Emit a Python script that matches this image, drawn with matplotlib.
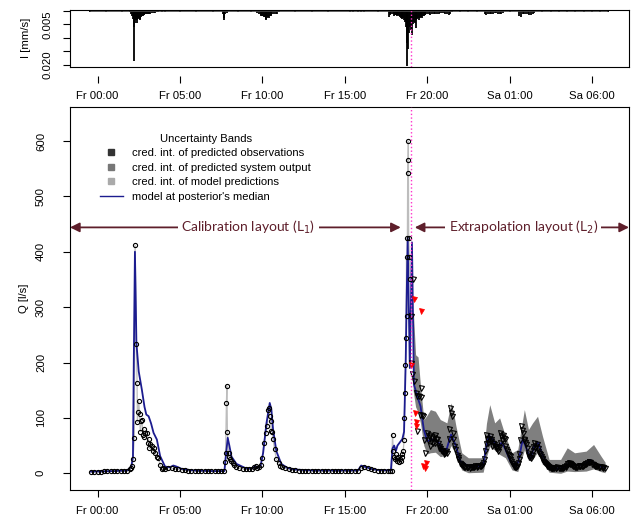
import numpy as np
import matplotlib
matplotlib.use("Agg")
import matplotlib.pyplot as plt
from matplotlib.lines import Line2D

plt.rcParams['font.family'] = ['Liberation Sans', 'DejaVu Sans']

# time axis in hours after Friday 00:00
tick_hours = [0, 5, 10, 15, 20, 25, 30]
tick_labels = ["Fr 00:00", "Fr 05:00", "Fr 10:00", "Fr 15:00", "Fr 20:00", "Sa 01:00", "Sa 06:00"]
t_switch = 19.0   # switch from calibration to extrapolation layout

# rainfall intensity [mm/s] as (hour, intensity)
rain = [(-0.45, 0.0003), (0.5, 0.0003), (1.5, 0.0004), (2.0, 0.0006), (2.05, 0.0012), (2.1, 0.0020),
        (2.15, 0.0030), (2.2, 0.0060), (2.23, 0.0184), (2.27, 0.0045), (2.3, 0.0035), (2.32, 0.0030),
        (2.35, 0.0028), (2.37, 0.0032), (2.4, 0.0046), (2.43, 0.0030), (2.45, 0.0026),
        (2.47, 0.0024), (2.5, 0.0022), (2.52, 0.0026), (2.55, 0.0030), (2.57, 0.0028),
        (2.6, 0.0034), (2.65, 0.0024), (2.7, 0.0020), (2.75, 0.0018), (2.8, 0.0014), (2.85, 0.0016),
        (2.9, 0.0012), (2.95, 0.0013), (3.0, 0.0011), (3.05, 0.0012), (3.1, 0.0009), (3.15, 0.0010),
        (3.2, 0.0010), (3.3, 0.0007), (3.4, 0.0008), (3.5, 0.0008), (3.6, 0.0006), (3.7, 0.0006),
        (3.9, 0.0005), (4.1, 0.0004), (5.0, 0.0003), (6.0, 0.0003), (7.0, 0.0003), (7.6, 0.0010),
        (7.65, 0.0034), (7.7, 0.0025), (7.75, 0.0012), (7.85, 0.0008), (8.5, 0.0003), (9.3, 0.0005),
        (9.7, 0.0008), (9.8, 0.0012), (9.9, 0.0018), (9.95, 0.0015), (10.0, 0.0020), (10.05, 0.0018),
        (10.1, 0.0024), (10.15, 0.0022), (10.2, 0.0030), (10.25, 0.0034), (10.3, 0.0028),
        (10.35, 0.0024), (10.4, 0.0025), (10.45, 0.0020), (10.5, 0.0018), (10.55, 0.0015),
        (10.6, 0.0012), (10.7, 0.0010), (10.8, 0.0012), (10.9, 0.0010), (11.0, 0.0006),
        (12.0, 0.0003), (13.0, 0.0003), (14.0, 0.0003), (15.3, 0.0005), (15.5, 0.0006),
        (15.8, 0.0004), (16.0, 0.0006), (16.2, 0.0005), (17.0, 0.0003), (17.7, 0.0021),
        (17.75, 0.0016), (17.8, 0.0012), (17.9, 0.0012), (18.0, 0.0018), (18.05, 0.0014),
        (18.1, 0.0015), (18.15, 0.0017), (18.2, 0.0020), (18.25, 0.0016), (18.3, 0.0018),
        (18.35, 0.0022), (18.4, 0.0025), (18.45, 0.0022), (18.5, 0.0030), (18.55, 0.0028),
        (18.6, 0.0035), (18.65, 0.0040), (18.7, 0.0060), (18.75, 0.0120), (18.8, 0.0205),
        (18.85, 0.0140), (18.9, 0.0080), (18.95, 0.0060), (19.0, 0.0060), (19.05, 0.0070),
        (19.1, 0.0090), (19.15, 0.0050), (19.2, 0.0040), (19.25, 0.0045), (19.3, 0.0065),
        (19.35, 0.0035), (19.4, 0.0030), (19.45, 0.0028), (19.5, 0.0035), (19.55, 0.0025),
        (19.6, 0.0020), (19.65, 0.0022), (19.7, 0.0025), (19.75, 0.0020), (19.8, 0.0018),
        (19.85, 0.0016), (19.9, 0.0015), (20.0, 0.0012), (20.1, 0.0011), (20.2, 0.0014),
        (20.3, 0.0012), (20.4, 0.0010), (20.5, 0.0011), (20.6, 0.0012), (20.7, 0.0010),
        (20.8, 0.0009), (20.9, 0.0008), (21.0, 0.0008), (21.1, 0.0010), (21.2, 0.0012),
        (21.3, 0.0015), (21.4, 0.0010), (21.5, 0.0006), (22.0, 0.0004), (22.5, 0.0005),
        (23.0, 0.0004), (23.5, 0.0010), (23.6, 0.0015), (23.7, 0.0012), (23.8, 0.0012),
        (23.9, 0.0010), (24.0, 0.0010), (24.1, 0.0009), (24.2, 0.0008), (24.3, 0.0010),
        (24.4, 0.0012), (24.5, 0.0010), (24.6, 0.0008), (25.0, 0.0006), (25.6, 0.0018),
        (25.7, 0.0021), (25.8, 0.0012), (25.9, 0.0010), (26.0, 0.0011), (26.1, 0.0012),
        (26.2, 0.0014), (26.3, 0.0016), (26.4, 0.0010), (26.5, 0.0008), (27.0, 0.0006),
        (27.5, 0.0005), (28.0, 0.0005), (28.5, 0.0006), (29.0, 0.0005), (29.5, 0.0006),
        (30.0, 0.0005), (30.5, 0.0005), (31.0, 0.0004)]

# model at posterior's median [l/s] as (hour, discharge)
model = [(-0.4, 3), (1.0, 4), (1.8, 5), (2.05, 12), (2.15, 30), (2.2, 200), (2.27, 400), (2.36, 235),
         (2.5, 184), (2.69, 151), (2.85, 120), (2.96, 106), (3.1, 103), (3.25, 90), (3.4, 73),
         (3.6, 61), (3.8, 31), (4.1, 12), (4.4, 11), (4.6, 14), (4.8, 12), (5.1, 8), (5.8, 5),
         (7.0, 4), (7.7, 4), (7.75, 20), (7.9, 64), (8.0, 50), (8.13, 30), (8.43, 17), (9.0, 9),
         (9.4, 9), (9.57, 13), (9.75, 10), (9.9, 14), (10.05, 37), (10.25, 90), (10.45, 127),
         (10.55, 115), (10.65, 80), (10.85, 40), (11.15, 17), (11.5, 10), (11.9, 7), (13.0, 5),
         (15.8, 5), (16.0, 14), (16.3, 11), (16.6, 8), (17.0, 6), (17.8, 5), (17.9, 45), (18.0, 50),
         (18.1, 40), (18.2, 50), (18.4, 58), (18.5, 62), (18.6, 75), (18.7, 200), (18.75, 300),
         (18.82, 425), (18.95, 190), (19.08, 417), (19.2, 160), (19.3, 150), (19.4, 139),
         (19.6, 121), (19.8, 79), (20.0, 58), (20.2, 60), (20.4, 61), (20.7, 55), (21.0, 37),
         (21.2, 45), (21.45, 70), (21.75, 49), (22.0, 22), (22.5, 13), (23.1, 13), (23.4, 15),
         (23.6, 49), (23.75, 68), (24.0, 61), (24.2, 49), (24.55, 55), (24.75, 43), (25.05, 22),
         (25.35, 13), (25.55, 22), (25.8, 62), (26.05, 43), (26.25, 25), (26.5, 49), (26.75, 55),
         (26.95, 37), (27.35, 13), (27.75, 8), (28.35, 10), (28.66, 20), (28.95, 15), (29.55, 16),
         (29.9, 24), (30.3, 15), (30.8, 10)]

# credible interval of predicted system output, (hour, lower, upper)
band = [(19.15, 150, 300), (19.3, 120, 214), (19.45, 110, 210), (19.6, 90, 157), (19.8, 50, 97),
        (20.0, 35, 105), (20.2, 37, 115), (20.5, 38, 112), (20.8, 30, 97), (21.2, 33, 91),
        (21.45, 50, 127), (21.6, 42, 110), (21.75, 30, 85), (22.1, 6, 37), (22.5, 1, 28),
        (23.4, 2, 28), (23.6, 30, 90), (23.8, 48, 124), (24.1, 42, 91), (24.4, 34, 100),
        (24.75, 28, 67), (25.15, 6, 37), (25.5, 3, 43), (25.9, 42, 115), (26.15, 28, 79),
        (26.4, 25, 91), (26.7, 38, 103), (27.0, 22, 67), (27.4, 2, 25), (28.1, 0, 25),
        (28.5, 4, 46), (28.95, 3, 37), (29.65, 4, 40), (30.1, 8, 52), (30.55, 3, 31), (30.8, 1, 20)]

# observed discharge, calibration layout [l/s] as (hour, discharge)
obs_cal = [(-0.4, 3), (-0.2, 3), (0.0, 3), (0.2, 3), (0.4, 4), (0.6, 4), (0.8, 4), (1.0, 4),
           (1.2, 4), (1.4, 4), (1.6, 5), (1.8, 5), (1.95, 7), (2.05, 10), (2.1, 14), (2.15, 25),
           (2.23, 63), (2.28, 412), (2.36, 233), (2.4, 163), (2.42, 92), (2.45, 110), (2.5, 130),
           (2.55, 107), (2.6, 75), (2.65, 95), (2.7, 97), (2.75, 70), (2.8, 80), (2.85, 65),
           (2.9, 72), (3.0, 73), (3.05, 55), (3.1, 61), (3.15, 45), (3.2, 52), (3.3, 49), (3.35, 40),
           (3.4, 45), (3.5, 37), (3.6, 30), (3.7, 28), (3.8, 15), (3.9, 7), (4.0, 9), (4.1, 8),
           (4.3, 10), (4.5, 9), (4.7, 8), (4.9, 7), (5.1, 6), (5.3, 6), (5.5, 5), (5.7, 5), (5.9, 5),
           (6.1, 4), (6.3, 4), (6.5, 4), (6.7, 4), (6.9, 4), (7.1, 4), (7.3, 4), (7.5, 4), (7.7, 5),
           (7.75, 20), (7.77, 37), (7.82, 126), (7.85, 158), (7.88, 74), (7.95, 37), (8.0, 30),
           (8.05, 25), (8.1, 22), (8.2, 18), (8.3, 15), (8.4, 12), (8.6, 9), (8.8, 8), (9.0, 7),
           (9.2, 7), (9.4, 8), (9.5, 12), (9.6, 13), (9.7, 10), (9.8, 12), (9.9, 15), (10.0, 28),
           (10.1, 55), (10.2, 73), (10.3, 85), (10.35, 115), (10.4, 118), (10.45, 103), (10.5, 94),
           (10.55, 76), (10.6, 75), (10.65, 61), (10.75, 43), (10.85, 25), (11.0, 19), (11.1, 14),
           (11.2, 12), (11.4, 9), (11.6, 7), (11.8, 6), (12.0, 6), (12.2, 5), (12.4, 5), (12.6, 5),
           (12.8, 5), (13.0, 5), (13.2, 4), (13.4, 4), (13.6, 4), (13.8, 4), (14.0, 4), (14.2, 4),
           (14.4, 4), (14.6, 4), (14.8, 4), (15.0, 4), (15.2, 4), (15.4, 4), (15.6, 4), (15.8, 4),
           (16.0, 9), (16.2, 11), (16.4, 10), (16.6, 8), (16.8, 6), (17.0, 5), (17.2, 5), (17.4, 4),
           (17.6, 4), (17.75, 4), (17.85, 5), (17.9, 70), (17.95, 40), (18.0, 30), (18.05, 25),
           (18.1, 35), (18.15, 28), (18.2, 22), (18.25, 30), (18.3, 20), (18.35, 25), (18.4, 22),
           (18.45, 30), (18.5, 35), (18.55, 40), (18.6, 60), (18.62, 100), (18.65, 145),
           (18.68, 196), (18.72, 244), (18.75, 390), (18.78, 284), (18.8, 424), (18.82, 542),
           (18.84, 566), (18.86, 600), (18.88, 424), (18.92, 390), (18.97, 350)]

# observed discharge, extrapolation layout [l/s], sampled every 6 minutes from 19:00
obs_ext_t0 = 19.0
obs_ext_dt = 0.1
obs_ext_q = [200, 180, 166, 145, 139, 140, 154, 106, 60, 37, 73, 67, 70, 64, 66, 70, 61, 49, 45, 40,
             38, 36, 37, 61, 118, 103, 61, 43, 33, 25, 19, 15, 13, 12, 11, 12, 10, 12, 11, 13, 12,
             14, 13, 15, 18, 40, 70, 55, 67, 61, 55, 49, 48, 40, 55, 67, 70, 61, 43, 35, 31, 22,
             16, 13, 12, 18, 35, 85, 73, 62, 52, 37, 30, 28, 40, 55, 49, 45, 37, 31, 25, 20, 16,
             14, 12, 10, 9, 9, 10, 11, 10, 9, 10, 11, 12, 16, 18, 17, 15, 13, 12, 12, 13, 13, 14,
             15, 16, 18, 20, 20, 17, 15, 14, 13, 12, 12, 11, 10, 10]
# additional readings in between
obs_extra = [(19.05, 284), (19.15, 350), (19.4, 76), (19.55, 106), (19.65, 138), (19.75, 104),
             (20.05, 60), (20.15, 50), (20.25, 58), (20.35, 55), (20.45, 55), (20.55, 62),
             (20.65, 55), (20.75, 46), (20.85, 42), (21.05, 35), (21.15, 40), (21.35, 80),
             (21.45, 109), (21.55, 73), (21.65, 50), (21.85, 30), (22.05, 17), (22.25, 12),
             (22.45, 11), (22.65, 12), (22.85, 12), (23.05, 13), (23.25, 14), (23.45, 25),
             (23.55, 52), (23.65, 61), (23.75, 62), (23.85, 58), (23.95, 50), (24.05, 52),
             (24.15, 45), (24.25, 44), (24.35, 48), (24.45, 73), (24.55, 60), (24.65, 64),
             (24.75, 50), (24.85, 40), (24.95, 33), (25.05, 26), (25.15, 18), (25.25, 14),
             (25.35, 12), (25.45, 14), (25.55, 25), (25.65, 60), (25.75, 78), (25.85, 60),
             (25.95, 56), (26.05, 45), (26.15, 33), (26.25, 29), (26.35, 33), (26.45, 48),
             (26.55, 45), (26.65, 52), (26.75, 40), (26.85, 34), (26.95, 28), (27.05, 22),
             (27.15, 18), (27.25, 15), (27.35, 13), (27.45, 11), (27.55, 10), (27.65, 9),
             (27.85, 10), (28.05, 10), (28.25, 10), (28.45, 14), (28.55, 17), (28.65, 19),
             (28.75, 16), (28.85, 14), (29.05, 12), (29.25, 13), (29.45, 14), (29.65, 17),
             (29.85, 21), (30.05, 16), (30.25, 14), (30.45, 12), (30.65, 11)]
# observations outside the predicted range
obs_out = [(19.2, 314), (19.6, 293), (19.05, 196), (19.27, 109), (19.3, 92), (19.33, 86),
           (19.75, 13), (19.85, 10), (19.92, 19)]

arrow_col = '#5e1f2b'
model_col = '#1c1c8f'
pink = '#ff33cc'
label_size = 8.2

W, H = 636, 519
fig = plt.figure(figsize=(W / 100, H / 100), dpi=100)


def px_axes(left, top, right, bottom):
    return fig.add_axes([left / W, 1 - bottom / H, (right - left) / W, (bottom - top) / H])


def style_axes(ax, ypad):
    for s in ax.spines.values():
        s.set_linewidth(0.8)
    ax.tick_params(length=4.8, width=0.8, labelsize=label_size)
    ax.tick_params(axis='x', pad=6.5)
    ax.tick_params(axis='y', pad=ypad)
    ax.set_xlim(-1.67, 32.25)


# rainfall panel, intensity axis pointing down
ax_r = px_axes(70, 10, 629, 66.7)
style_axes(ax_r, 8)
rain_t, rain_i = zip(*rain)
ax_r.vlines(rain_t, 0, rain_i, color='black', lw=1.3)
ax_r.hlines(0.00015, rain_t[0], rain_t[-1], color='0.3', lw=1.2)
ax_r.set_ylim(0.02064, -0.00032)
ax_r.set_yticks([0, 0.005, 0.010, 0.015, 0.020])
ax_r.set_yticklabels(['', '0.005', '', '', '0.020'], rotation=90, va='center')
ax_r.set_ylabel('I [mm/s]', fontsize=label_size, labelpad=8)
ax_r.set_xticks([])
sec = ax_r.secondary_xaxis(-9 / 56.7)
sec.spines['bottom'].set_visible(False)
sec.set_xticks(tick_hours)
sec.set_xticklabels(tick_labels)
sec.tick_params(length=4.8, width=0.8, labelsize=label_size, pad=6.5)
ax_r.axvline(t_switch, color=pink, ls=':', lw=1.0)

# discharge panel
ax = px_axes(70, 107, 629, 490)
style_axes(ax, 12.5)
ax.set_xticks(tick_hours)
ax.set_xticklabels(tick_labels)
ax.set_ylim(-30.2, 661.4)
ax.set_yticks(range(0, 700, 100))
ax.set_yticklabels([str(v) for v in range(0, 700, 100)], rotation=90, va='center')
ax.set_ylabel('Q [l/s]', fontsize=label_size, labelpad=5)

band_t, band_lo, band_hi = zip(*band)
ax.fill_between(band_t, band_lo, band_hi, color='#7f7f7f', lw=0, zorder=1)

cal_t, cal_q = zip(*obs_cal)
model_t, model_q = zip(*model)
ax.plot(cal_t, cal_q, color='#bdbdbd', lw=0.9, zorder=2)
ax.plot(model_t, model_q, color=model_col, lw=1.3, zorder=3)
ax.plot(cal_t, cal_q, ls='none', marker='o', ms=3.0, mfc='none', mec='black', mew=0.8, zorder=4)

obs_ext_t = obs_ext_t0 + obs_ext_dt * np.arange(len(obs_ext_q))
extra_t, extra_q = zip(*obs_extra)
out_t, out_q = zip(*obs_out)
tri = dict(ls='none', marker='v', ms=3.6, mfc='none', mec='black', mew=0.8, zorder=4)
ax.plot(obs_ext_t, obs_ext_q, **tri)
ax.plot(extra_t, extra_q, **tri)
ax.plot(out_t, out_q, ls='none', marker='v', ms=3.6, mfc='red', mec='red', mew=0.5, zorder=5)

ax.axvline(t_switch, color=pink, ls=':', lw=1.0, zorder=6)

# layout arrows
y_arr = 444
arrow = dict(arrowstyle='<|-|>', color=arrow_col, lw=1.3, mutation_scale=14, shrinkA=0, shrinkB=0)
ax.annotate('', xy=(-1.67, y_arr), xytext=(18.4, y_arr), arrowprops=arrow)
ax.annotate('', xy=(19.25, y_arr), xytext=(32.25, y_arr), arrowprops=arrow)
for x_txt, txt in [(9.16, 'Calibration layout (L$_1$)'), (25.84, 'Extrapolation layout (L$_2$)')]:
    ax.text(x_txt, y_arr, txt, color=arrow_col, fontsize=10, family=['Lato', 'DejaVu Sans'],
            ha='center', va='center', bbox=dict(facecolor='white', edgecolor='none', pad=2.5))

handles = [Line2D([], [], ls='none', marker='s', ms=4, mfc='#333333', mec='#333333'),
           Line2D([], [], ls='none', marker='s', ms=4, mfc='#777777', mec='#777777'),
           Line2D([], [], ls='none', marker='s', ms=4, mfc='#aaaaaa', mec='#aaaaaa'),
           Line2D([], [], color=model_col, lw=1.0)]
labels = ['cred. int. of predicted observations', 'cred. int. of predicted system output',
          'cred. int. of model predictions', "model at posterior's median"]
ax.legend(handles, labels, title='Uncertainty Bands', loc='upper left',
          bbox_to_anchor=(0.046, 0.942), frameon=False, fontsize=8.1, title_fontsize=8.1,
          handlelength=2.0, handletextpad=0.85, labelspacing=0.4, borderaxespad=0)

fig.savefig('out.png', dpi=100)
